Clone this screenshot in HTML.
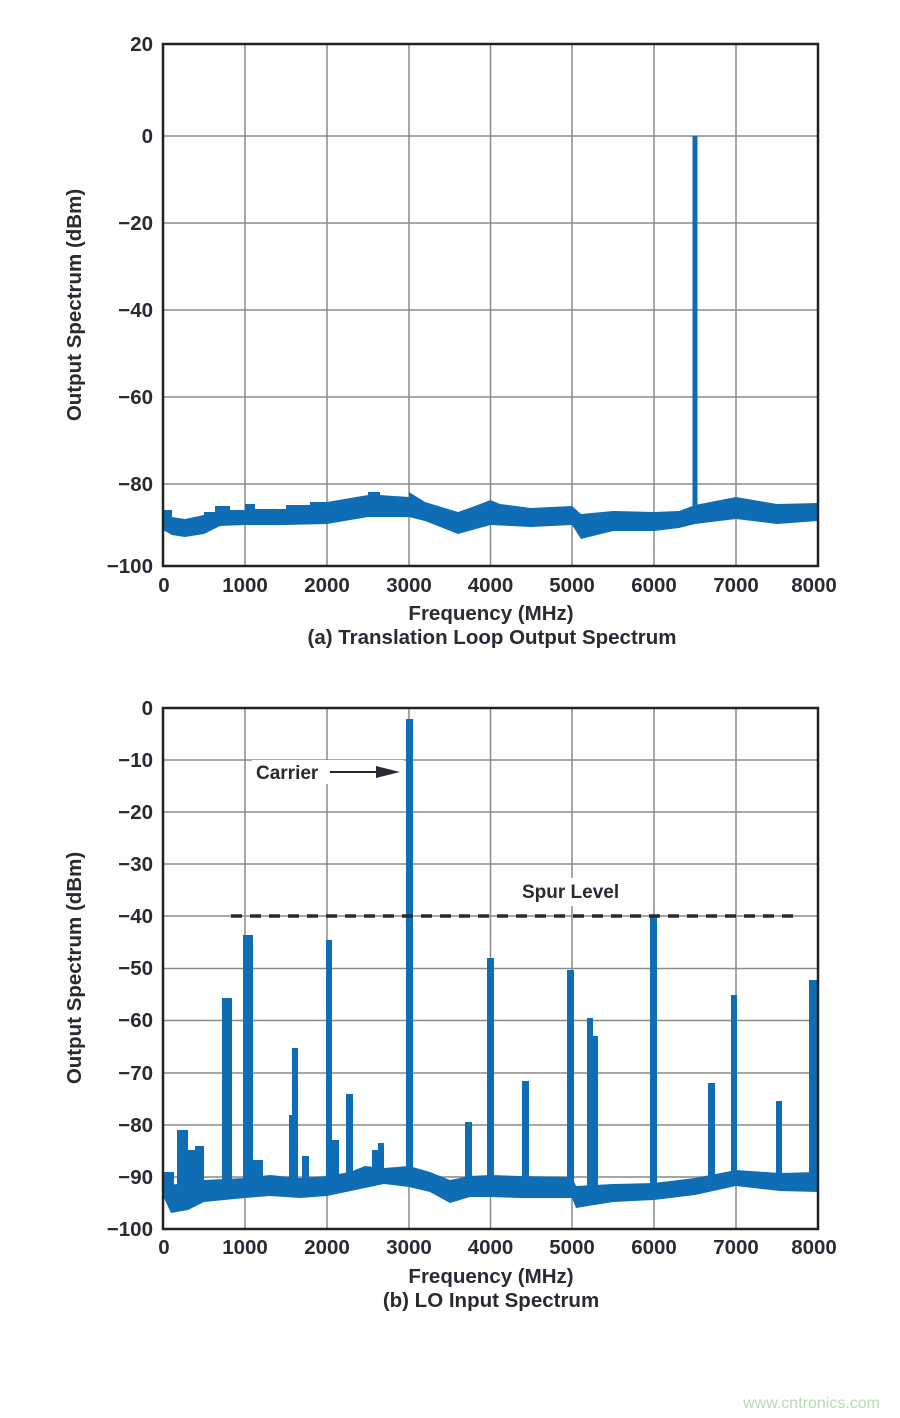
<!DOCTYPE html>
<html><head><meta charset="utf-8"><style>
html,body{margin:0;padding:0;background:#fff;}
svg{display:block;}
text{font-family:"Liberation Sans",sans-serif;font-weight:bold;fill:#2a2a35;}
</style></head><body>
<svg width="900" height="1418" viewBox="0 0 900 1418" xmlns="http://www.w3.org/2000/svg">
<!-- Chart A grid -->
<g stroke="#8a8a8a" stroke-width="1.5">
<line x1="245" y1="44" x2="245" y2="566"/><line x1="327" y1="44" x2="327" y2="566"/><line x1="409" y1="44" x2="409" y2="566"/><line x1="490.5" y1="44" x2="490.5" y2="566"/><line x1="572" y1="44" x2="572" y2="566"/><line x1="654" y1="44" x2="654" y2="566"/><line x1="736" y1="44" x2="736" y2="566"/>
<line x1="163" y1="136" x2="818" y2="136"/><line x1="163" y1="223" x2="818" y2="223"/><line x1="163" y1="310" x2="818" y2="310"/><line x1="163" y1="397" x2="818" y2="397"/><line x1="163" y1="484" x2="818" y2="484"/>
</g>
<polygon fill="#0e6db5" points="163,510 172,510 172,517 185,519 204,515 204,512 215,512 215,506 230,506 230,510 245,510 245,504 255,504 255,509 286,509 286,505 310,505 310,502 327,502 368,495 368,492 380,492 380,495 409,497 409,492 425,502 458,512 475,506 490.5,500 500,504 531,508 572,506 581,514 613,511 654,512 679,511 695,505 736,497 777,504 818,503 818,521 777,524 736,519 695,524 679,528 654,531 613,531 581,539 572,525 531,527 490.5,525 458,534 425,521 409,517 368,517 327,524 286,525 245,525 220,526 204,534 185,537 172,535 163,530"/>
<rect x="692.5" y="136" width="5" height="380" fill="#0e6db5"/>
<rect x="163" y="44" width="655" height="522" fill="none" stroke="#222" stroke-width="2.5"/>
<g font-size="20.5" text-anchor="end">
<text x="153" y="51">20</text><text x="153" y="143">0</text><text x="153" y="230">−20</text><text x="153" y="317">−40</text><text x="153" y="404">−60</text><text x="153" y="491">−80</text><text x="153" y="573">−100</text>
</g>
<g font-size="20.5" text-anchor="middle">
<text x="164" y="592">0</text><text x="245" y="592">1000</text><text x="327" y="592">2000</text><text x="409" y="592">3000</text><text x="490.5" y="592">4000</text><text x="572" y="592">5000</text><text x="654" y="592">6000</text><text x="736" y="592">7000</text><text x="814" y="592">8000</text>
<text x="491" y="620">Frequency (MHz)</text>
<text x="492" y="644">(a) Translation Loop Output Spectrum</text>
</g>
<text font-size="20.5" text-anchor="middle" transform="translate(81,305) rotate(-90)">Output Spectrum (dBm)</text>

<!-- Chart B grid -->
<g stroke="#8a8a8a" stroke-width="1.5">
<line x1="245" y1="708" x2="245" y2="1229"/><line x1="327" y1="708" x2="327" y2="1229"/><line x1="409" y1="708" x2="409" y2="1229"/><line x1="490.5" y1="708" x2="490.5" y2="1229"/><line x1="572" y1="708" x2="572" y2="1229"/><line x1="654" y1="708" x2="654" y2="1229"/><line x1="736" y1="708" x2="736" y2="1229"/>
<line x1="163" y1="760" x2="818" y2="760"/><line x1="163" y1="812" x2="818" y2="812"/><line x1="163" y1="864" x2="818" y2="864"/><line x1="163" y1="916" x2="818" y2="916"/><line x1="163" y1="968.5" x2="818" y2="968.5"/><line x1="163" y1="1020.5" x2="818" y2="1020.5"/><line x1="163" y1="1073" x2="818" y2="1073"/><line x1="163" y1="1125" x2="818" y2="1125"/><line x1="163" y1="1177" x2="818" y2="1177"/>
</g>
<rect x="252" y="760" width="152" height="24" fill="#fff"/>
<rect x="518" y="878" width="110" height="28" fill="#fff"/>
<polygon fill="#0e6db5" points="163,1172 171,1185 188,1182 204,1180 245,1178 270,1175 300,1178 327,1176 350,1172 365,1166 384,1168 409,1166 430,1172 450,1180 470,1176 490.5,1175 520,1176 572,1177 576,1186 613,1184 654,1183 695,1178 736,1170 780,1173 818,1172 818,1192 780,1191 736,1186 695,1195 654,1200 613,1202 576,1208 572,1198 520,1198 490.5,1197 470,1197 450,1203 430,1192 409,1187 384,1184 365,1188 327,1196 300,1198 270,1196 245,1198 204,1202 188,1210 171,1213 163,1196"/>
<g fill="#0e6db5">
<rect x="163" y="1172" width="11" height="20"/>
<rect x="177" y="1130" width="11" height="60"/>
<rect x="188" y="1150" width="8" height="40"/>
<rect x="195" y="1146" width="9" height="44"/>
<rect x="222" y="998" width="10" height="190"/>
<rect x="243" y="935" width="10" height="250"/>
<rect x="253" y="1160" width="10" height="25"/>
<rect x="289" y="1115" width="6" height="70"/>
<rect x="292" y="1048" width="6" height="130"/>
<rect x="302" y="1156" width="7" height="25"/>
<rect x="326" y="940" width="6" height="245"/>
<rect x="332" y="1140" width="7" height="40"/>
<rect x="346" y="1094" width="7" height="90"/>
<rect x="372" y="1150" width="6" height="30"/>
<rect x="378" y="1143" width="6" height="35"/>
<rect x="406" y="719" width="7" height="465"/>
<rect x="465" y="1122" width="7" height="60"/>
<rect x="487" y="958" width="7" height="222"/>
<rect x="522" y="1081" width="7" height="100"/>
<rect x="567" y="970" width="7" height="215"/>
<rect x="587" y="1018" width="6" height="170"/>
<rect x="592" y="1036" width="6" height="150"/>
<rect x="650" y="916" width="7" height="270"/>
<rect x="708" y="1083" width="7" height="100"/>
<rect x="731" y="995" width="6" height="185"/>
<rect x="776" y="1101" width="6" height="80"/>
<rect x="809" y="980" width="9" height="207"/>
</g>
<line x1="231" y1="916" x2="800" y2="916" stroke="#2a2a35" stroke-width="3.5" stroke-dasharray="11,8"/>
<line x1="330" y1="772" x2="380" y2="772" stroke="#2a2a35" stroke-width="2"/>
<polygon points="376,766 400,772 376,778" fill="#2a2a35"/>
<text x="256" y="779" font-size="19">Carrier</text>
<text x="522" y="898" font-size="19">Spur Level</text>
<rect x="163" y="708" width="655" height="521" fill="none" stroke="#222" stroke-width="2.5"/>
<g font-size="20.5" text-anchor="end">
<text x="153" y="715">0</text><text x="153" y="767">−10</text><text x="153" y="819">−20</text><text x="153" y="871">−30</text><text x="153" y="923">−40</text><text x="153" y="975">−50</text><text x="153" y="1027">−60</text><text x="153" y="1080">−70</text><text x="153" y="1132">−80</text><text x="153" y="1184">−90</text><text x="153" y="1236">−100</text>
</g>
<g font-size="20.5" text-anchor="middle">
<text x="164" y="1254">0</text><text x="245" y="1254">1000</text><text x="327" y="1254">2000</text><text x="409" y="1254">3000</text><text x="490.5" y="1254">4000</text><text x="572" y="1254">5000</text><text x="654" y="1254">6000</text><text x="736" y="1254">7000</text><text x="814" y="1254">8000</text>
<text x="491" y="1283">Frequency (MHz)</text>
<text x="491" y="1307">(b) LO Input Spectrum</text>
</g>
<text font-size="20.5" text-anchor="middle" transform="translate(81,968) rotate(-90)">Output Spectrum (dBm)</text>
<text x="880" y="1408" font-size="16" text-anchor="end" style="font-weight:normal;fill:#b5dcb0">www.cntronics.com</text>
</svg>
</body></html>
